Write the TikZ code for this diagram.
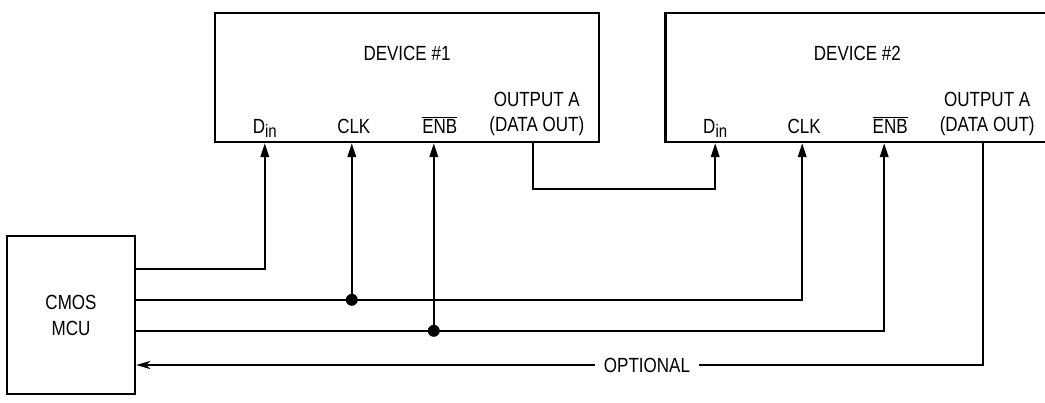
\documentclass[tikz,border=0pt]{standalone}
\usepackage{fontspec}
\setmainfont{Liberation Sans}[FakeStretch=0.83]
\usetikzlibrary{arrows.meta, positioning, calc}

\begin{document}
\begin{tikzpicture}[
    x=1pt, y=-1pt,
    font=\fontsize{20.5}{26}\selectfont,
    box/.style={rectangle, draw, line width=2.4pt, minimum width=384pt, minimum height=129pt, inner sep=0pt},
    mcubox/.style={rectangle, draw, line width=2.4pt, minimum width=128pt, minimum height=158pt, align=center, inner sep=0pt},
    pin/.style={anchor=base, inner sep=0pt},
    wire/.style={draw, line width=2pt},
    arrow/.style={wire, -{Triangle[length=14pt, width=8.5pt]}},
    dot/.style={circle, fill, inner sep=0pt, minimum size=12pt}
]
\useasboundingbox (0,0) rectangle (1045,403);

% Nodes
\node[box] (dev1) at (407,77.5) {};
\node[box, right=64pt of dev1] (dev2) {};
\node[mcubox] (mcu) at (71,315) {CMOS\\MCU};

% Pin coordinates
\coordinate (din1) at ($(dev1.south west)+(51,0)$);
\coordinate (clk1) at ($(dev1.south west)+(138,0)$);
\coordinate (enb1) at ($(dev1.south west)+(220,0)$);
\coordinate (out1) at ($(dev1.south west)+(319,0)$);
\coordinate (din2) at ($(dev2.south west)+(51,0)$);
\coordinate (clk2) at ($(dev2.south west)+(138,0)$);
\coordinate (enb2) at ($(dev2.south west)+(220,0)$);
\coordinate (out2) at ($(dev2.south west)+(319,0)$);
\coordinate (mcu1) at ($(mcu.north east)+(0,34)$);
\coordinate (mcu2) at ($(mcu.north east)+(0,65)$);
\coordinate (mcu3) at ($(mcu.north east)+(0,96)$);

% Labels
\node[pin] at ($(dev1.north)+(0,49)$) {DEVICE \#1};
\node[pin] at ($(din1)+(0,-10)$) {D\raisebox{-4.5pt}{\fontsize{18}{18}\selectfont in}};
\node[pin] at ($(clk1)+(2,-10)$) {CLK};
\node[pin] at ($(enb1)+(6,-10)$) {$\overline{\mbox{ENB}}$};
\node[pin] at ($(out1)+(4,-37)$) {OUTPUT A};
\node[pin] at ($(out1)+(4,-12)$) {(DATA OUT)};

\node[pin] at ($(dev2.north)+(0,49)$) {DEVICE \#2};
\node[pin] at ($(din2)+(0,-10)$) {D\raisebox{-4.5pt}{\fontsize{18}{18}\selectfont in}};
\node[pin] at ($(clk2)+(2,-10)$) {CLK};
\node[pin] at ($(enb2)+(6,-10)$) {$\overline{\mbox{ENB}}$};
\node[pin] at ($(out2)+(4,-37)$) {OUTPUT A};
\node[pin] at ($(out2)+(4,-12)$) {(DATA OUT)};

\node[inner xsep=9pt] (opt) at (647,365) {OPTIONAL};

% Junctions
\node[dot] (j1) at (clk1 |- mcu2) {};
\node[dot] (j2) at (enb1 |- mcu3) {};

% Connections
\draw[arrow] (mcu1) -| (din1);
\draw[arrow] (mcu2) -| (clk2);
\draw[arrow] (mcu3) -| (enb2);
\draw[arrow] (j1) -- (clk1);
\draw[arrow] (j2) -- (enb1);
\draw[arrow] (out1) -- ++(0,46) -| (din2);
\draw[wire] (out2) |- (opt.east);
\draw[wire, -{Stealth[length=14pt, width=8pt, inset=4pt]}] (opt.west) -- (mcu.east |- opt);

\end{tikzpicture}
\end{document}
